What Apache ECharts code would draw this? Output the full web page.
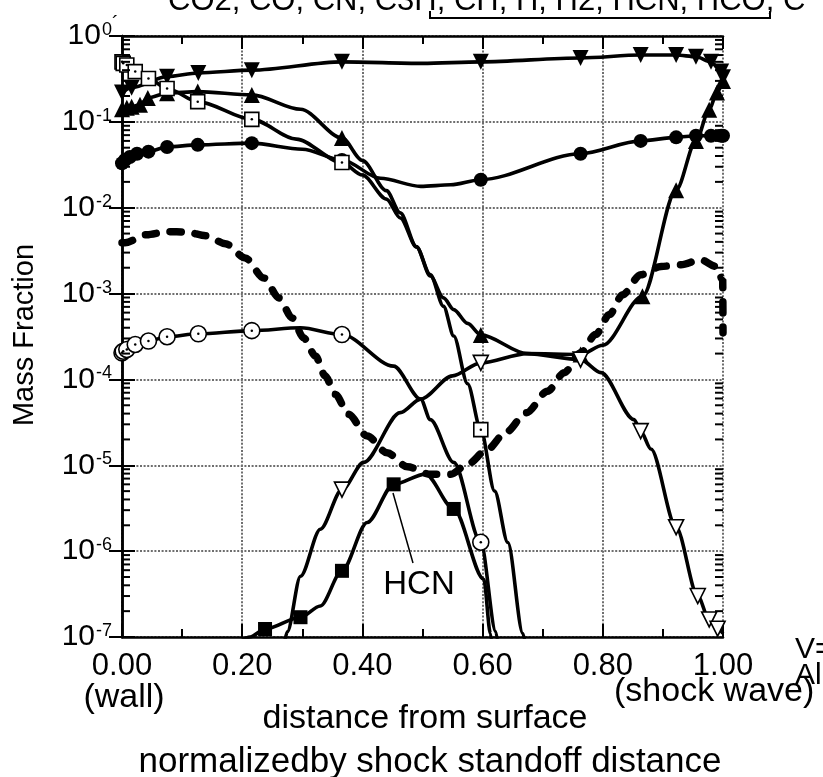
<!DOCTYPE html>
<html><head><meta charset="utf-8">
<script src="https://cdn.jsdelivr.net/npm/echarts@6/dist/echarts.min.js"></script>
<style>html,body{margin:0;padding:0;background:#fff}#c{width:823px;height:777px}</style>
</head><body><div id="c"></div>
<script>
// ---------- tick labels ----------
const xTickLabels = ['0.00', '0.20', '0.40', '0.60', '0.80', '1.00'];
const yTickExponents = ['0', '-1', '-2', '-3', '-4', '-5', '-6', '-7'];

// ---------- series values: [normalized distance, mass fraction] ----------
// filled down-triangles
const dnTriLine = [[0,0.22],[0.016,0.25],[0.075,0.336],[0.127,0.371],[0.216,0.40],[0.366,0.50],[0.50,0.48],[0.597,0.50],[0.763,0.555],[0.863,0.60],[0.922,0.60],[0.955,0.574],[0.98,0.50],[0.997,0.385],[1.0,0.33]];
const dnTriMarks = [[0,0.22],[0.016,0.25],[0.075,0.336],[0.127,0.371],[0.216,0.40],[0.366,0.50],[0.597,0.50],[0.763,0.555],[0.863,0.60],[0.922,0.60],[0.955,0.574],[0.98,0.50],[0.997,0.385],[1.0,0.33]];
// filled up-triangles
const upTriLine = [[0,0.14],[0.008,0.146],[0.016,0.15],[0.03,0.158],[0.043,0.19],[0.075,0.216],[0.126,0.225],[0.216,0.206],[0.297,0.14],[0.366,0.065],[0.40,0.0355],[0.44,0.0158],[0.463,0.0087],[0.49,3.5e-3],[0.513,1.6e-3],[0.535,8.9e-4],[0.552,6.5e-4],[0.575,4.5e-4],[0.597,3.3e-4],[0.674,2.0e-4],[0.763,1.95e-4],[0.80,2.5e-4],[0.866,9.3e-4],[0.922,0.016],[0.955,0.06],[0.977,0.138],[0.99,0.22],[1.0,0.3]];
const upTriMarks = [[0,0.14],[0.008,0.146],[0.016,0.15],[0.03,0.158],[0.043,0.19],[0.075,0.216],[0.126,0.225],[0.216,0.206],[0.366,0.065],[0.597,3.3e-4],[0.763,1.95e-4],[0.866,9.3e-4],[0.922,0.016],[0.955,0.06],[0.977,0.138],[0.99,0.22],[1.0,0.3]];
// open squares
const sqLine = [[0,0.50],[0.002,0.48],[0.008,0.46],[0.022,0.385],[0.044,0.32],[0.075,0.245],[0.126,0.172],[0.216,0.107],[0.29,0.063],[0.366,0.0336],[0.40,0.024],[0.44,0.0126],[0.463,0.0076],[0.49,3.5e-3],[0.513,1.66e-3],[0.535,7.1e-4],[0.552,3.2e-4],[0.575,8.9e-5],[0.597,2.6e-5],[0.62,5.0e-6],[0.642,1.26e-6],[0.667,1.1e-7],[0.68,3e-8]];
const sqMarks = [[0,0.50],[0.002,0.48],[0.008,0.46],[0.022,0.385],[0.044,0.32],[0.075,0.245],[0.126,0.172],[0.216,0.107],[0.366,0.0336],[0.597,2.6e-5]];
// filled circles
const dotLine = [[0,0.033],[0.005,0.036],[0.013,0.039],[0.025,0.0425],[0.044,0.045],[0.075,0.051],[0.126,0.054],[0.216,0.0565],[0.30,0.048],[0.366,0.036],[0.43,0.022],[0.497,0.0177],[0.547,0.0185],[0.597,0.0212],[0.763,0.0425],[0.863,0.060],[0.922,0.066],[0.955,0.069],[0.98,0.069],[0.997,0.069],[1.0,0.069]];
const dotMarks = [[0,0.033],[0.005,0.036],[0.013,0.039],[0.025,0.0425],[0.044,0.045],[0.075,0.051],[0.126,0.054],[0.216,0.0565],[0.366,0.036],[0.597,0.0212],[0.763,0.0425],[0.863,0.060],[0.922,0.066],[0.955,0.069],[0.98,0.069],[0.997,0.069],[1.0,0.069]];
// open circles
const ringLine = [[0,2.04e-4],[0.002,2.13e-4],[0.008,2.23e-4],[0.022,2.55e-4],[0.044,2.8e-4],[0.075,3.14e-4],[0.127,3.4e-4],[0.216,3.7e-4],[0.297,4.0e-4],[0.366,3.33e-4],[0.452,1.43e-4],[0.497,5.9e-5],[0.513,3.4e-5],[0.552,1.08e-5],[0.597,1.27e-6],[0.622,1.15e-7],[0.632,3e-8]];
const ringMarks = [[0,2.04e-4],[0.002,2.13e-4],[0.008,2.23e-4],[0.022,2.55e-4],[0.044,2.8e-4],[0.075,3.14e-4],[0.127,3.4e-4],[0.216,3.7e-4],[0.366,3.33e-4],[0.597,1.27e-6]];
// HCN filled squares
const hcnLine = [[0.18,7e-8],[0.213,1.0e-7],[0.238,1.24e-7],[0.297,1.7e-7],[0.33,2.3e-7],[0.366,5.9e-7],[0.408,2.16e-6],[0.452,6.0e-6],[0.505,7.9e-6],[0.552,3.1e-6],[0.602,4.7e-7],[0.613,1.1e-7],[0.62,4e-8]];
const hcnMarks = [[0.238,1.24e-7],[0.297,1.7e-7],[0.366,5.9e-7],[0.452,6.0e-6],[0.552,3.1e-6]];
// open down-triangles
const openDnLine = [[0.268,7e-8],[0.275,1.15e-7],[0.297,5.1e-7],[0.33,1.8e-6],[0.366,5.2e-6],[0.402,1.08e-5],[0.463,4.1e-5],[0.497,5.9e-5],[0.55,1.1e-4],[0.597,1.56e-4],[0.674,2.0e-4],[0.763,1.7e-4],[0.797,1.2e-4],[0.852,3.4e-5],[0.863,2.5e-5],[0.88,1.55e-5],[0.922,1.9e-6],[0.958,3.0e-7],[0.977,1.6e-7],[0.991,1.25e-7],[1.0,1.1e-7]];
const openDnMarks = [[0.366,5.2e-6],[0.597,1.56e-4],[0.763,1.7e-4],[0.863,2.5e-5],[0.922,1.9e-6],[0.958,3.0e-7],[0.977,1.6e-7],[0.991,1.25e-7]];
// thick dashed curve (no markers)
const dashLine = [[0,3.9e-3],[0.005,3.9e-3],[0.041,4.85e-3],[0.075,5.26e-3],[0.107,5.21e-3],[0.14,4.72e-3],[0.172,3.81e-3],[0.205,2.6e-3],[0.236,1.52e-3],[0.261,8.9e-4],[0.283,5.2e-4],[0.302,3.05e-4],[0.322,1.87e-4],[0.338,1.1e-4],[0.355,6.7e-5],[0.377,3.92e-5],[0.408,2.19e-5],[0.441,1.4e-5],[0.475,9.6e-6],[0.513,7.85e-6],[0.547,7.85e-6],[0.575,1.03e-5],[0.608,1.53e-5],[0.638,2.4e-5],[0.673,4.1e-5],[0.708,7.3e-5],[0.736,1.2e-4],[0.763,2.04e-4],[0.788,3.33e-4],[0.811,5.7e-4],[0.833,9.7e-4],[0.863,1.66e-3],[0.897,2.07e-3],[0.93,2.17e-3],[0.963,2.48e-3],[0.988,2.07e-3],[0.9995,1.46e-3],[1.0,3.5e-4]];

// ---------- rendering ----------
const FONT = '"Liberation Sans", Arial, Helvetica, sans-serif';
const chart = echarts.init(document.getElementById('c'), null, {renderer: 'canvas'});

const gridLine = {show: true, lineStyle: {color: '#6e6e6e', width: 2, type: [2, 1.6]}};
const axisLineStyle = {show: true, lineStyle: {color: '#000', width: 2.5}};

function xAxisCfg(pos, labels) {
  return {
    type: 'value', position: pos, min: 0, max: 1, interval: 0.2,
    axisLine: axisLineStyle,
    axisTick: {show: true, inside: true, length: 13, lineStyle: {color: '#000', width: 2}},
    minorTick: {show: true, splitNumber: 2, length: 8, lineStyle: {color: '#000', width: 2}},
    splitLine: pos === 'bottom' ? gridLine : {show: false},
    axisLabel: labels ? {
      show: true, margin: 14, color: '#000', fontFamily: FONT, fontSize: 31,
      formatter: v => xTickLabels[Math.round(v / 0.2)]
    } : {show: false}
  };
}
function yAxisCfg(pos, labels) {
  return {
    type: 'log', logBase: 10, position: pos, min: 1e-7, max: 1, splitNumber: 10,
    axisLine: axisLineStyle,
    axisTick: {show: true, inside: true, length: 13, lineStyle: {color: '#000', width: 2}},
    minorTick: {show: false},
    splitLine: pos === 'left' ? gridLine : {show: false},
    axisLabel: labels ? {
      show: true, margin: 10, color: '#000', fontFamily: FONT,
      formatter: v => {
        const e = Math.round(-Math.log10(v));
        return '{b|10}{s|' + yTickExponents[e] + '}';
      },
      rich: {
        b: {fontSize: 30, fontFamily: FONT, color: '#000', lineHeight: 30},
        s: {fontSize: 18, fontFamily: FONT, color: '#000', verticalAlign: 'top', lineHeight: 18, padding: [0, 0, 0, 1]}
      }
    } : {show: false}
  };
}

const minorVals = [];
for (let k = -7; k < 0; k++) for (let m = 2; m <= 9; m++) minorVals.push([0, m * Math.pow(10, k)]);

function lineSeries(data, extra) {
  return Object.assign({
    type: 'line', data: data, symbol: 'none', smooth: 0.3, smoothMonotone: 'x',
    lineStyle: {color: '#000', width: 3.6}, z: 3, silent: true, animation: false
  }, extra || {});
}
function markSeries(data, symbol, size, filled, rotate, z) {
  return {
    type: 'scatter', data: data, symbol: symbol, symbolSize: size, symbolRotate: rotate || 0,
    itemStyle: filled ? {color: '#000', opacity: 1} : {color: '#fff', borderColor: '#000', borderWidth: 1.6, opacity: 1},
    z: z, clip: false, silent: true, animation: false
  };
}

const option = {
  animation: false,
  backgroundColor: '#fff',
  grid: {left: 122, right: 100, top: 36, bottom: 140, containLabel: false},
  xAxis: [xAxisCfg('bottom', true), xAxisCfg('top', false)],
  yAxis: [yAxisCfg('left', true), yAxisCfg('right', false)],
  series: [
    lineSeries(dashLine, {lineStyle: {color: '#000', width: 7.5, type: [11, 14], cap: 'round'}}),
    lineSeries(dnTriLine),
    lineSeries(upTriLine),
    lineSeries(sqLine),
    lineSeries(dotLine),
    lineSeries(ringLine),
    lineSeries(hcnLine),
    lineSeries(openDnLine),
    markSeries(upTriMarks, 'triangle', 16, true, 0, 5),
    markSeries(dnTriMarks, 'triangle', 16, true, 180, 5),
    markSeries(dotMarks, 'circle', 14, true, 0, 5),
    markSeries(sqMarks, 'rect', 14, false, 0, 6),
    markSeries(ringMarks, 'circle', 16, false, 0, 6),
    markSeries(hcnMarks, 'rect', 14, true, 0, 6),
    markSeries(openDnMarks, 'triangle', 15, false, 180, 6),
    markSeries(sqMarks.concat(ringMarks), 'circle', 2.5, true, 0, 7),
    {
      type: 'custom', data: minorVals, z: 8, silent: true, clip: false, animation: false,
      renderItem: (params, api) => {
        const y = api.coord([0, api.value(1)])[1];
        const cs = params.coordSys;
        const st = {stroke: '#000', lineWidth: 2};
        return {type: 'group', children: [
          {type: 'line', shape: {x1: cs.x, y1: y, x2: cs.x + 8, y2: y}, style: st},
          {type: 'line', shape: {x1: cs.x + cs.width - 8, y1: y, x2: cs.x + cs.width, y2: y}, style: st}
        ]};
      }
    }
  ],
  graphic: [
    {type: 'text', x: 168, y: 1, style: {text: 'CO2, CO, CN, C3H, CH, H, H2, HCN, HCO, C', font: '31px ' + FONT, fill: '#000', verticalAlign: 'middle'}},
    {type: 'polyline', shape: {points: [[430, 11], [430, 18], [770, 18], [770, 11]]}, style: {stroke: '#000', lineWidth: 2, fill: null}},
    {type: 'text', x: 112, y: 24, style: {text: '´', font: '20px ' + FONT, fill: '#000', verticalAlign: 'middle'}},
    {type: 'text', x: 124, y: 698, style: {text: '(wall)', font: '34px ' + FONT, fill: '#000', align: 'center', verticalAlign: 'middle'}},
    {type: 'text', x: 614, y: 692, style: {text: '(shock wave)', font: '34px ' + FONT, fill: '#000', align: 'left', verticalAlign: 'middle'}},
    {type: 'text', x: 425, y: 719, style: {text: 'distance from surface', font: '34px ' + FONT, fill: '#000', align: 'center', verticalAlign: 'middle'}},
    {type: 'text', x: 430, y: 762, style: {text: 'normalizedby shock standoff distance', font: '35px ' + FONT, fill: '#000', align: 'center', verticalAlign: 'middle'}},
    {type: 'text', x: 25, y: 335, rotation: Math.PI / 2, style: {text: 'Mass Fraction', font: '29px ' + FONT, fill: '#000', align: 'center', verticalAlign: 'middle'}},
    {type: 'text', x: 795, y: 650, style: {text: 'V=', font: '30px ' + FONT, fill: '#000', verticalAlign: 'middle'}},
    {type: 'text', x: 795, y: 676, style: {text: 'Al', font: '30px ' + FONT, fill: '#000', verticalAlign: 'middle'}},
    {type: 'line', shape: {x1: 393, y1: 493, x2: 413, y2: 563}, style: {stroke: '#000', lineWidth: 1.5}},
    {type: 'text', x: 419, y: 585, style: {text: 'HCN', font: '33px ' + FONT, fill: '#000', align: 'center', verticalAlign: 'middle'}}
  ]
};
chart.setOption(option);
</script>
</body></html>
